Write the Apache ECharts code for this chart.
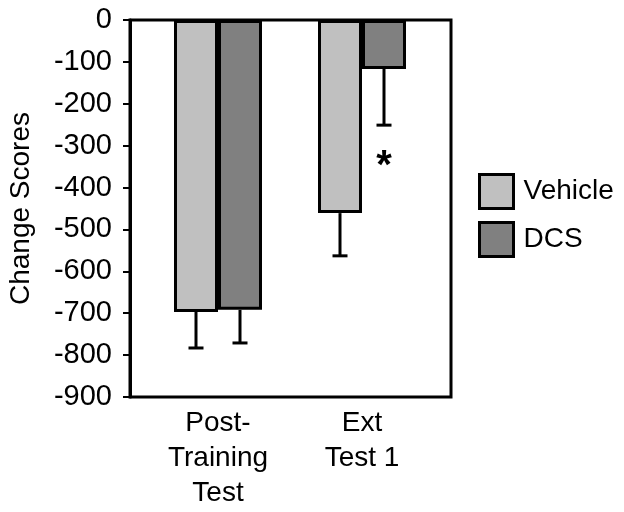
<!DOCTYPE html>
<html>
<head>
<meta charset="utf-8">
<script src="https://cdn.jsdelivr.net/npm/echarts@6/dist/echarts.min.js"></script>
<style>html,body{margin:0;padding:0;background:#fff;}#chart{width:624px;height:512px;}</style>
</head>
<body>
<div id="chart"></div>
<script>
var categories = ['Post-\nTraining\nTest', 'Ext\nTest 1'];
var seriesNames = ['Vehicle', 'DCS'];
var vehicleValues = [-697, -461];
var dcsValues = [-692, -117];
var vehicleErrors = [86, 102];
var dcsErrors = [79, 134];
var yTicks = { min: -900, max: 0, interval: 100 };
var significance = [{ category: 1, seriesIndex: 1, value: -352, text: '*' }];

var FONT = "'Liberation Sans', Arial, Helvetica, sans-serif";
var BAR_W = 44;
var colors = ['#c0c0c0', '#808080'];

var chart = echarts.init(document.getElementById('chart'), null, { renderer: 'canvas' });

function errRender(values, errors, side) {
  return function (params, api) {
    var i = api.value(0);
    var v = values[i];
    var e = errors[i];
    var top = api.coord([i, v]);
    var bot = api.coord([i, v - e]);
    var x = top[0] + side * BAR_W / 2;
    var cap = 7.5;
    return {
      type: 'group',
      children: [
        { type: 'line', shape: { x1: x, y1: top[1], x2: x, y2: bot[1] }, style: { stroke: '#000', lineWidth: 3 } },
        { type: 'line', shape: { x1: x - cap, y1: bot[1], x2: x + cap, y2: bot[1] }, style: { stroke: '#000', lineWidth: 3 } }
      ]
    };
  };
}

var option = {
  backgroundColor: '#fff',
  animation: false,
  textStyle: { fontFamily: FONT },
  grid: [
    { left: 130, top: 20, width: 321, height: 377, show: true, borderColor: '#000', borderWidth: 3, backgroundColor: 'transparent', containLabel: false, outerBoundsMode: 'none' },
    { left: 146, top: 20, width: 288, height: 377, containLabel: false, outerBoundsMode: 'none' }
  ],
  legend: {
    orient: 'vertical',
    left: 473,
    top: 168,
    itemWidth: 34,
    itemHeight: 34,
    itemGap: 11,
    icon: 'rect',
    data: seriesNames,
    textStyle: { fontSize: 28, color: '#000', fontFamily: FONT, padding: [0, 0, 0, 5] },
    itemStyle: { borderColor: '#000', borderWidth: 3 }
  },
  xAxis: [
    { type: 'value', gridIndex: 0, min: 0, max: 1, show: false },
    {
      type: 'category', gridIndex: 1, data: categories,
      axisLine: { show: false }, axisTick: { show: false },
      axisLabel: { fontSize: 28, color: '#000', fontFamily: FONT, lineHeight: 35, margin: 9, interval: 0 }
    }
  ],
  yAxis: [
    {
      type: 'value', gridIndex: 0, min: yTicks.min, max: yTicks.max, interval: yTicks.interval,
      name: 'Change Scores', nameLocation: 'middle', nameGap: 95, nameRotate: 90,
      nameTextStyle: { fontSize: 28, color: '#000', fontFamily: FONT },
      axisLine: { show: true, lineStyle: { color: '#000', width: 3 } },
      axisTick: { show: true, inside: false, length: 7, lineStyle: { color: '#000', width: 2 } },
      axisLabel: { fontSize: 29, color: '#000', fontFamily: FONT, margin: 18 },
      splitLine: { show: false }
    },
    { type: 'value', gridIndex: 1, min: yTicks.min, max: yTicks.max, interval: yTicks.interval, show: false }
  ],
  series: [
    {
      name: seriesNames[0], type: 'bar', xAxisIndex: 1, yAxisIndex: 1, data: vehicleValues,
      barWidth: BAR_W, barGap: '0%',
      itemStyle: { color: colors[0], borderColor: '#000', borderWidth: 3 }
    },
    {
      name: seriesNames[1], type: 'bar', xAxisIndex: 1, yAxisIndex: 1, data: dcsValues,
      barWidth: BAR_W, barGap: '0%',
      itemStyle: { color: colors[1], borderColor: '#000', borderWidth: 3 }
    },
    {
      type: 'custom', xAxisIndex: 1, yAxisIndex: 1, z: 5,
      renderItem: errRender(vehicleValues, vehicleErrors, -1),
      data: vehicleValues.map(function (v, i) { return [i, v]; })
    },
    {
      type: 'custom', xAxisIndex: 1, yAxisIndex: 1, z: 5,
      renderItem: errRender(dcsValues, dcsErrors, 1),
      data: dcsValues.map(function (v, i) { return [i, v]; })
    },
    {
      type: 'custom', xAxisIndex: 1, yAxisIndex: 1, z: 6,
      renderItem: function (params, api) {
        var s = significance[params.dataIndex];
        var p = api.coord([s.category, s.value]);
        var side = s.seriesIndex === 1 ? 1 : -1;
        return {
          type: 'text',
          style: { text: s.text, x: p[0] + side * BAR_W / 2, y: p[1], fill: '#000', font: 'bold 40px ' + FONT, textAlign: 'center', textVerticalAlign: 'middle' }
        };
      },
      data: significance.map(function (s) { return [s.category, s.value]; })
    }
  ]
};
chart.setOption(option);
</script>
</body>
</html>
